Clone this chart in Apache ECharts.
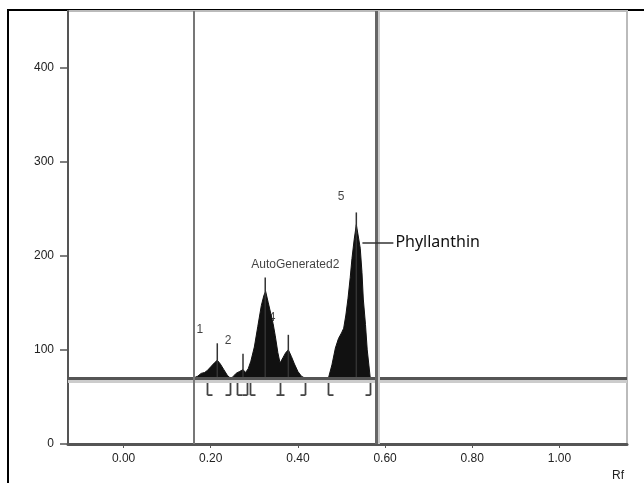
<!DOCTYPE html>
<html>
<head>
<meta charset="UTF-8">
<title>Densitogram - Phyllanthin</title>
<script src="https://cdn.jsdelivr.net/npm/echarts@6/dist/echarts.min.js"></script>
<style>
  html, body { margin: 0; padding: 0; background: #fff; }
  #main { width: 644px; height: 483px; }
</style>
</head>
<body>
<div id="main"></div>
<script>
// axis ticks
var rfTicks = [0, 0.2, 0.4, 0.6, 0.8, 1.0];
var yTicks = [0, 100, 200, 300, 400];
var baseline = 70;

// scan profile (Rf, AU)
var profileRf = [0.160, 0.170, 0.178, 0.186, 0.192, 0.200, 0.208, 0.215, 0.222, 0.230, 0.238, 0.245,
  0.250, 0.258, 0.266, 0.274, 0.280, 0.286, 0.292, 0.300, 0.308, 0.316, 0.322, 0.326, 0.332, 0.338,
  0.343, 0.348, 0.354, 0.359, 0.366, 0.372, 0.378, 0.385, 0.392, 0.400, 0.408, 0.416,
  0.470, 0.478, 0.486, 0.493, 0.500, 0.505, 0.510, 0.515, 0.520, 0.524, 0.529, 0.534,
  0.538, 0.543, 0.547, 0.550, 0.555, 0.559, 0.563, 0.566];
var profileAU = [70, 72, 75, 76, 78, 82, 86, 89, 85, 79, 73, 70,
  71, 75, 77, 79, 76, 80, 88, 103, 125, 147, 158, 162, 150, 138,
  128, 115, 97, 86, 92, 97, 100, 93, 85, 77, 72, 70,
  70, 84, 102, 112, 118, 123, 137, 155, 177, 197, 217, 233,
  222, 208, 182, 154, 127, 100, 83, 70];

// peak-max markers (Rf, top)
var spikes = [[0.215, 107], [0.274, 96], [0.325, 177], [0.378, 116], [0.534, 246]];
// integration brackets (Rf, kind)
var brackets = [[0.192, '['], [0.245, ']'], [0.261, '['], [0.284, ']'], [0.290, '['],
  [0.359, 'T'], [0.417, ']'], [0.470, '['], [0.566, ']']];
// vertical track markers
var markerRf = [0.162, 0.580];
// peak labels (Rf, AU, text)
var peakLabels = [[0.175, 121, '1'], [0.240, 110, '2'], [0.394, 191, 'AutoGenerated2'],
  [0.341, 134, '4'], [0.499, 263, '5']];

var profile = [];
for (var i = 0; i < profileRf.length; i++) {
  profile.push([profileRf[i], profileAU[i]]);
}

var myChart = echarts.init(document.getElementById('main'));
var option = {
  backgroundColor: '#fff',
  animation: false,
  graphic: [{
    type: 'rect',
    shape: { x: 8, y: 10, width: 700, height: 500 },
    style: { fill: 'none', stroke: '#000', lineWidth: 2 },
    z: -1
  }, {
    type: 'text',
    left: 612, top: 470,
    style: { text: 'Rf', font: '12px "Liberation Sans", Arial', fill: '#222' }
  }],
  grid: {
    left: 68, right: 17, top: 11, bottom: 39,
    show: true, borderColor: '#bbb', borderWidth: 2
  },
  xAxis: {
    type: 'value',
    min: -0.1275, max: 1.155,
    splitLine: { show: false },
    axisLine: { onZero: false, lineStyle: { color: '#555', width: 3 } },
    axisTick: { customValues: rfTicks, length: 4, lineStyle: { color: '#555' } },
    axisLabel: {
      customValues: rfTicks,
      margin: 9,
      fontFamily: 'Liberation Sans',
      fontSize: 12,
      color: '#222',
      formatter: function (v) { return v.toFixed(2); }
    }
  },
  yAxis: {
    type: 'value',
    min: 0, max: 460,
    splitLine: { show: false },
    axisLine: { show: true, onZero: false, lineStyle: { color: '#555', width: 2 } },
    axisTick: { show: true, customValues: yTicks, length: 8, lineStyle: { color: '#555', width: 1.5 } },
    axisLabel: {
      customValues: yTicks,
      margin: 14,
      fontFamily: 'Liberation Sans',
      fontSize: 12,
      color: '#222'
    }
  },
  series: [{
    type: 'line',
    data: profile,
    symbol: 'none',
    lineStyle: { color: '#111', width: 1 },
    areaStyle: { color: '#111', opacity: 1, origin: baseline },
    z: 3,
    markLine: {
      silent: true,
      symbol: 'none',
      label: { show: false },
      data: [
        { yAxis: baseline, lineStyle: { color: '#555', width: 3, type: 'solid', shadowColor: '#ccc', shadowOffsetY: 3 } },
        { xAxis: markerRf[0], lineStyle: { color: '#777', width: 2, type: 'solid' } },
        { xAxis: markerRf[1], lineStyle: { color: '#666', width: 3, type: 'solid', shadowColor: '#ccc', shadowOffsetX: 2 } },
        [{ coord: [0.548, 214], lineStyle: { color: '#333', width: 1.5, type: 'solid' },
           label: { show: true, position: 'end', distance: 2, formatter: 'Phyllanthin',
             fontFamily: 'Noto Sans', fontSize: 16, color: '#111' } },
         { coord: [0.619, 214] }]
      ]
    }
  }, {
    type: 'custom',
    data: spikes,
    z: 4,
    renderItem: function (params, api) {
      var top = api.coord([api.value(0), api.value(1)]);
      var bot = api.coord([api.value(0), baseline]);
      return {
        type: 'line',
        shape: { x1: top[0], y1: top[1], x2: bot[0], y2: bot[1] },
        style: { stroke: '#333', lineWidth: 1.5 }
      };
    }
  }, {
    type: 'custom',
    data: brackets.map(function (b) { return [b[0], b[1] === '[' ? 1 : (b[1] === ']' ? -1 : 0)]; }),
    z: 4,
    renderItem: function (params, api) {
      var p = api.coord([api.value(0), baseline]);
      var dir = api.value(1);
      var x = Math.round(p[0]) + 0.5;
      var y0 = p[1] + 4, y1 = p[1] + 17;
      var st = { stroke: '#444', lineWidth: 1.8 };
      var foot = dir === 0
        ? { x1: x - 4, y1: y1, x2: x + 4, y2: y1 }
        : { x1: x, y1: y1, x2: x + dir * 5, y2: y1 };
      return {
        type: 'group',
        children: [
          { type: 'line', shape: { x1: x, y1: y0, x2: x, y2: y1 }, style: st },
          { type: 'line', shape: foot, style: st }
        ]
      };
    }
  }, {
    type: 'scatter',
    data: peakLabels,
    symbolSize: 0,
    z: 5,
    label: {
      show: true,
      position: 'inside',
      fontFamily: 'Liberation Sans',
      fontSize: 12,
      color: '#111',
      formatter: function (p) { return p.data[2]; }
    }
  }]
};
myChart.setOption(option);
</script>
</body>
</html>
